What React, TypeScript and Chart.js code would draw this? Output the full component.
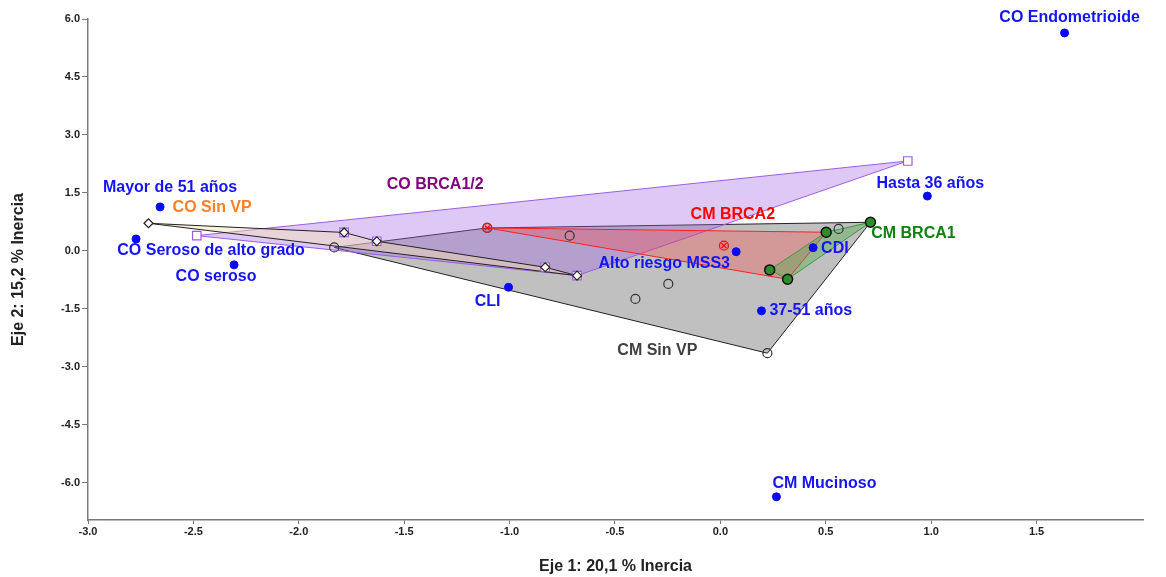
import React, { useEffect, useRef } from "react";
import { Chart, registerables } from "chart.js";
Chart.register(...registerables);

// ---- Axes ----
const X_TICKS = [-3.0, -2.5, -2.0, -1.5, -1.0, -0.5, 0.0, 0.5, 1.0, 1.5];
const Y_TICKS = [-6.0, -4.5, -3.0, -1.5, 0.0, 1.5, 3.0, 4.5, 6.0];
const X_TITLE = "Eje 1: 20,1 % Inercia";
const Y_TITLE = "Eje 2: 15,2 % Inercia";

// ---- Supplementary categories (blue points) ----
const SUP_NAMES = ["CO Endometrioide", "Hasta 36 años", "Mayor de 51 años", "CO Seroso de alto grado", "CO seroso", "CLI", "Alto riesgo MSS3", "CDI", "37-51 años", "CM Mucinoso"];
const SUP_X = [1.633, 0.982, -2.658, -2.772, -2.307, -1.005, 0.075, 0.44, 0.195, 0.266];
const SUP_Y = [5.64, 1.42, 1.14, 0.31, -0.36, -0.94, -0.02, 0.085, -1.55, -6.36];

// ---- Groups ----
const CM_SINVP_X = [-1.832, -1.106, -0.715, -0.403, -0.247, 0.223, 0.561, 0.712];
const CM_SINVP_Y = [0.09, 0.595, 0.396, -1.241, -0.853, -2.645, 0.569, 0.742];
const CM_SINVP_HULL = [0, 1, 7, 5];

const CM_BRCA2_X = [-1.106, 0.017, 0.234, 0.319, 0.502];
const CM_BRCA2_Y = [0.595, 0.137, -0.491, -0.732, 0.484];
const CM_BRCA2_HULL = [0, 4, 3];

const CM_BRCA1_X = [0.712, 0.502, 0.234, 0.319];
const CM_BRCA1_Y = [0.742, 0.484, -0.491, -0.732];
const CM_BRCA1_HULL = [0, 1, 2, 3];

const CO_BRCA12_X = [-2.484, 0.889, -1.785, -1.630, -0.831, -0.680];
const CO_BRCA12_Y = [0.396, 2.327, 0.478, 0.251, -0.422, -0.639];
const CO_BRCA12_HULL = [0, 1, 5];

const CO_SINVP_X = [-2.713, -1.785, -1.630, -0.831, -0.680];
const CO_SINVP_Y = [0.716, 0.478, 0.251, -0.422, -0.639];
const CO_SINVP_HULL = [0, 1, 2, 3, 4];

const GROUP_NAMES = ["CO Sin VP", "CO BRCA1/2", "CM BRCA2", "CM BRCA1", "CM Sin VP"];
const GROUP_LABEL_X = [-2.411, -1.353, 0.059, 0.916, -0.299];
const GROUP_LABEL_Y = [1.13, 1.707, 0.95, 0.44, -2.57];

// ---- Styling (label layout, colours) ----
const SUP_LABEL_DX = [5, 3, 10, 75, -18, -21, -72, 8, 8, 48];
const SUP_LABEL_DY = [-15, -12, -19, 12, 12, 14, 12, 1, 0, -13];
const SUP_LABEL_ALIGN = ["center", "center", "center", "center", "center", "center", "center", "left", "left", "center"];
const GROUP_COLORS = ["#ff7f27", "#800080", "#ff0000", "#108010", "#404040"];
const FONT = '"Liberation Sans", Arial, Helvetica, sans-serif';

const labelsPlugin = {
  id: "textLabels",
  afterDatasetsDraw(chart: any) {
    const { ctx } = chart;
    const xs = chart.scales.x;
    const ys = chart.scales.y;
    ctx.save();
    ctx.font = `bold 16px ${FONT}`;
    ctx.textBaseline = "middle";
    SUP_NAMES.forEach((n, i) => {
      ctx.fillStyle = "#1414f5";
      ctx.textAlign = SUP_LABEL_ALIGN[i];
      ctx.fillText(n, xs.getPixelForValue(SUP_X[i]) + SUP_LABEL_DX[i], ys.getPixelForValue(SUP_Y[i]) + SUP_LABEL_DY[i]);
    });
    GROUP_NAMES.forEach((n, i) => {
      ctx.fillStyle = GROUP_COLORS[i];
      ctx.textAlign = "center";
      ctx.fillText(n, xs.getPixelForValue(GROUP_LABEL_X[i]), ys.getPixelForValue(GROUP_LABEL_Y[i]));
    });
    ctx.restore();
  },
};

export default function App() {
  const ref = useRef<HTMLCanvasElement>(null);
  useEffect(() => {
    document.body.style.margin = "0";
    Chart.defaults.font.family = FONT;
    const pts = (xs: number[], ys: number[]) => xs.map((x, i) => ({ x, y: ys[i] }));
    const hull = (xs: number[], ys: number[], idx: number[]) => {
      const p = idx.map((i) => ({ x: xs[i], y: ys[i] }));
      p.push(p[0]);
      return p;
    };
    const poly = (label: string, data: any[], fill: string, border: string, order: number) => ({
      label, data, showLine: true, fill: "shape", backgroundColor: fill, borderColor: border,
      borderWidth: 1, pointRadius: 0, pointHoverRadius: 0, tension: 0, order,
    });
    const marks = (label: string, data: any[], style: string, radius: number, bg: string, border: string, bw: number, order: number) => ({
      label, data, showLine: false, pointStyle: style, pointRadius: radius, pointHoverRadius: radius,
      backgroundColor: bg, borderColor: border, borderWidth: bw, order,
    });

    const datasets: any[] = [
      poly("CM Sin VP", hull(CM_SINVP_X, CM_SINVP_Y, CM_SINVP_HULL), "rgba(150,150,150,0.6)", "#222222", 100),
      poly("CO BRCA1/2", hull(CO_BRCA12_X, CO_BRCA12_Y, CO_BRCA12_HULL), "rgba(160,100,230,0.35)", "#9c5ce0", 90),
      poly("CO Sin VP", hull(CO_SINVP_X, CO_SINVP_Y, CO_SINVP_HULL), "rgba(245,225,180,0.45)", "#222222", 80),
      poly("CM BRCA2", hull(CM_BRCA2_X, CM_BRCA2_Y, CM_BRCA2_HULL), "rgba(255,60,60,0.3)", "#ff2020", 70),
      poly("CM BRCA1", hull(CM_BRCA1_X, CM_BRCA1_Y, CM_BRCA1_HULL), "rgba(60,170,60,0.35)", "#3a9a3a", 60),
      marks("CM Sin VP pts", pts(CM_SINVP_X, CM_SINVP_Y), "circle", 4.5, "rgba(0,0,0,0)", "#333333", 1.2, 9),
      marks("CO BRCA1/2 pts", pts(CO_BRCA12_X, CO_BRCA12_Y), "rect", 6, "#ffffff", "#9c5ce0", 1.2, 8),
      marks("CO Sin VP pts", pts(CO_SINVP_X, CO_SINVP_Y), "rectRot", 4.5, "#ffffff", "#222222", 1.2, 7),
      marks("CM BRCA2 pts", pts(CM_BRCA2_X, CM_BRCA2_Y), "circle", 4.5, "rgba(255,0,0,0.15)", "#cc2020", 1.2, 6),
      marks("CM BRCA2 x", pts(CM_BRCA2_X, CM_BRCA2_Y), "crossRot", 3.5, "#ff0000", "#ff0000", 1.2, 5),
      marks("CM BRCA1 pts", pts(CM_BRCA1_X, CM_BRCA1_Y), "circle", 5, "#2e8b2e", "#111111", 1.5, 4),
      marks("Sup", pts(SUP_X, SUP_Y), "circle", 4, "#0a0af5", "#0a0af5", 1, 1),
    ];

    const chart = new Chart(ref.current as HTMLCanvasElement, {
      type: "scatter",
      data: { datasets },
      plugins: [labelsPlugin],
      options: {
        animation: false,
        responsive: false,
        devicePixelRatio: 1,
        layout: { padding: { top: 19, right: 23, bottom: 0, left: 0 } },
        plugins: { legend: { display: false }, tooltip: { enabled: false } },
        scales: {
          x: {
            type: "linear",
            min: -3,
            max: 2.005,
            afterBuildTicks: (s: any) => { s.ticks = X_TICKS.map((v) => ({ value: v })); },
            afterFit: (s: any) => { s.height = 57; },
            grid: { display: true, drawOnChartArea: false, drawTicks: true, tickLength: 4, color: "#777777", lineWidth: 1 },
            border: { display: true, color: "#7a7a7a", width: 1.5 },
            ticks: { font: { size: 11, weight: "bold" }, color: "#222222", padding: 1, maxRotation: 0, autoSkip: false, callback: (v: any) => Number(v).toFixed(1) },
            title: { display: true, text: X_TITLE, font: { size: 16, weight: "bold" }, color: "#222222", padding: { top: 4, bottom: 1 } },
          },
          y: {
            type: "linear",
            min: -6.96,
            max: 6.0,
            afterBuildTicks: (s: any) => { s.ticks = Y_TICKS.map((v) => ({ value: v })); },
            afterFit: (s: any) => { s.width = 88; },
            grid: { display: true, drawOnChartArea: false, drawTicks: true, tickLength: 6, color: "#777777", lineWidth: 1 },
            border: { display: true, color: "#7a7a7a", width: 1.5 },
            ticks: { font: { size: 11, weight: "bold" }, color: "#222222", padding: 2, autoSkip: false, callback: (v: any) => Number(v).toFixed(1) },
            title: { display: true, text: Y_TITLE, font: { size: 16, weight: "bold" }, color: "#222222", padding: { top: 9, bottom: 0 } },
          },
        },
      } as any,
    });
    return () => chart.destroy();
  }, []);

  return (
    <div style={{ width: 1166, height: 577, background: "#ffffff" }}>
      <canvas ref={ref} width={1166} height={577} style={{ display: "block" }} />
    </div>
  );
}
